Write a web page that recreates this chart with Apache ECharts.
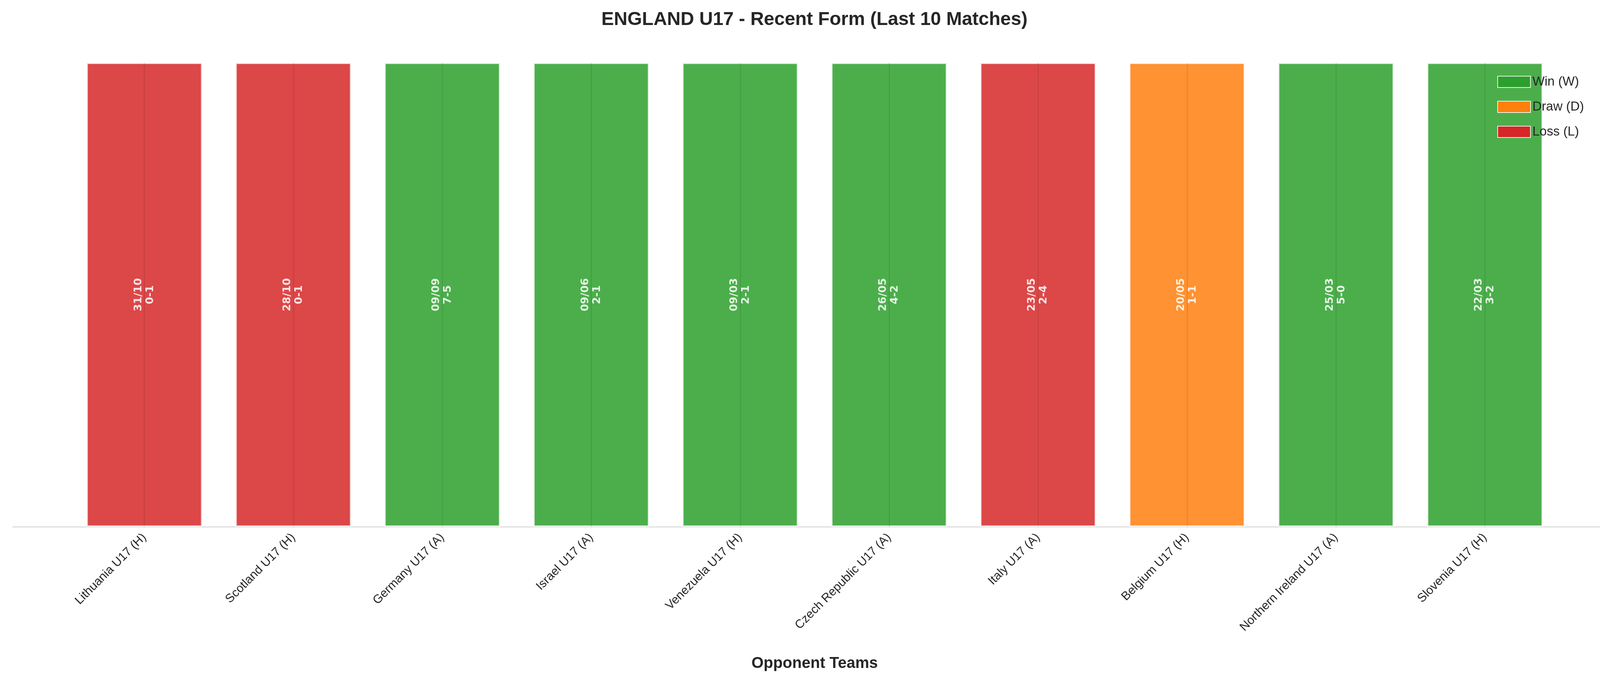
<!DOCTYPE html>
<html>
<head>
<meta charset="utf-8">
<script src="https://cdn.jsdelivr.net/npm/echarts@6/dist/echarts.min.js"></script>
<style>html,body{margin:0;background:#fff}#chart{width:4170px;height:1769px}</style>
</head>
<body>
<div id="chart"></div>
<script>
const opponents = ['Lithuania U17 (H)', 'Scotland U17 (H)', 'Germany U17 (A)', 'Israel U17 (A)',
  'Venezuela U17 (H)', 'Czech Republic U17 (A)', 'Italy U17 (A)', 'Belgium U17 (H)',
  'Northern Ireland U17 (A)', 'Slovenia U17 (H)'];
const dates = ['31/10', '28/10', '09/09', '09/06', '09/03', '26/05', '23/05', '20/05', '25/03', '22/03'];
const scores = ['0-1', '0-1', '7-5', '2-1', '2-1', '4-2', '2-4', '1-1', '5-0', '3-2'];
const results = ['L', 'L', 'W', 'W', 'W', 'W', 'L', 'D', 'W', 'W'];

const outcomes = [
  { key: 'W', name: 'Win (W)', color: '#2ca02c' },
  { key: 'D', name: 'Draw (D)', color: '#ff7f0e' },
  { key: 'L', name: 'Loss (L)', color: '#d62728' }
];

const chart = echarts.init(document.getElementById('chart'));

const series = outcomes.map((o, si) => ({
  name: o.name,
  type: 'bar',
  barWidth: '78%',
  barGap: '-100%',
  data: results.map(r => (r === o.key ? 1 : '-')),
  itemStyle: { color: o.color, opacity: 0.85, borderColor: 'rgba(255,255,255,0.85)', borderWidth: 4 },
  label: {
    show: true,
    position: 'inside',
    rotate: 90,
    color: '#fff',
    fontWeight: 'bold',
    fontSize: 27,
    lineHeight: 30,
    fontFamily: 'DejaVu Sans',
    formatter: p => dates[p.dataIndex] + '\n' + scores[p.dataIndex]
  },
  markLine: si === 0 ? {
    silent: true,
    symbol: 'none',
    label: { show: false },
    lineStyle: { color: 'rgba(0,0,0,0.08)', width: 3, type: 'solid' },
    data: opponents.map(c => ({ xAxis: c }))
  } : undefined
}));

chart.setOption({
  animation: false,
  backgroundColor: '#fff',
  title: {
    text: 'ENGLAND U17 - Recent Form (Last 10 Matches)',
    left: 'center',
    top: 22,
    textStyle: { fontSize: 48, fontWeight: 'bold', color: '#262626', fontFamily: 'Liberation Sans' }
  },
  legend: {
    orient: 'vertical',
    right: 110,
    top: 188,
    itemWidth: 84,
    itemHeight: 29,
    itemGap: 31,
    icon: 'rect',
    textStyle: { fontSize: 33, color: '#262626', fontFamily: 'Liberation Sans' },
    itemStyle: { opacity: 1 },
    data: outcomes.map(o => o.name)
  },
  grid: { left: 179, right: 178, top: 160, bottom: 420 },
  xAxis: {
    type: 'category',
    data: opponents,
    name: 'Opponent Teams',
    nameLocation: 'middle',
    nameGap: 330,
    nameTextStyle: { fontSize: 40, fontWeight: 'bold', color: '#262626', fontFamily: 'Liberation Sans' },
    axisLine: { show: false },
    axisTick: { show: false },
    axisLabel: { rotate: 45, fontSize: 31, color: '#262626', margin: 22, fontFamily: 'Liberation Sans', interval: 0 }
  },
  yAxis: { type: 'value', min: 0, max: 1, show: false },
  graphic: [{
    type: 'line',
    shape: { x1: 32, y1: 1349, x2: 4136, y2: 1349 },
    style: { stroke: '#d0d0d0', lineWidth: 2 }
  }],
  series
});
</script>
</body>
</html>
